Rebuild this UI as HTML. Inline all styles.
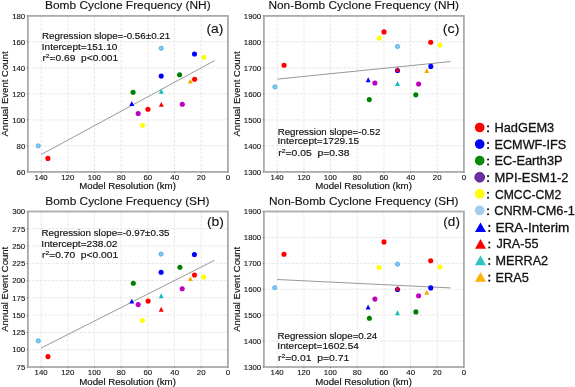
<!DOCTYPE html>
<html><head><meta charset="utf-8"><style>
html,body{margin:0;padding:0;background:#fff;}
svg{display:block;will-change:transform;}
text{font-family:'Liberation Sans', sans-serif;fill:#111;stroke:#111;stroke-width:0;}
.an{stroke-width:0.15px;}
.tk{stroke-width:0.12px;}
.lb{stroke-width:0.15px;}
.tt{stroke-width:0.12px;}
.lg{stroke-width:0.3px;}
.pl{stroke-width:0.1px;}
</style></head><body>
<svg width="575" height="387" viewBox="0 0 575 387">
<rect width="575" height="387" fill="#fff"/>
<path d="M41.23 15.90V171.90 M67.90 15.90V171.90 M94.57 15.90V171.90 M121.23 15.90V171.90 M147.90 15.90V171.90 M174.57 15.90V171.90 M201.23 15.90V171.90 M27.90 145.90H227.90 M27.90 119.90H227.90 M27.90 93.90H227.90 M27.90 67.90H227.90 M27.90 41.90H227.90" stroke="#e7e7e7" stroke-width="1" stroke-dasharray="2.8 1.2" fill="none"/>
<line x1="41.1" y1="154.6" x2="214.6" y2="60.6" stroke="#999" stroke-width="1.0"/>
<circle cx="38.2" cy="145.9" r="2.1" fill="#86c8ef" stroke="#4aaee6" stroke-width="0.9"/>
<circle cx="47.9" cy="158.4" r="2.55" fill="#ff0000"/>
<circle cx="133.1" cy="92.3" r="2.55" fill="#008000"/>
<path d="M131.8 101.05L134.25 105.95L129.35 105.95Z" fill="#0000ff"/>
<circle cx="138.2" cy="113.5" r="2.55" fill="#bf00bf"/>
<circle cx="142.5" cy="125.2" r="2.55" fill="#ffff00"/>
<circle cx="147.9" cy="109.3" r="2.55" fill="#ff0000"/>
<path d="M161.3 88.75L163.75 93.65L158.85 93.65Z" fill="#12bdbd"/>
<path d="M161.3 101.95L163.75 106.85L158.85 106.85Z" fill="#ff0000"/>
<circle cx="161.2" cy="76.1" r="2.55" fill="#0000ff"/>
<circle cx="161.2" cy="48.3" r="2.1" fill="#86c8ef" stroke="#4aaee6" stroke-width="0.9"/>
<circle cx="179.6" cy="74.8" r="2.55" fill="#008000"/>
<circle cx="182.3" cy="104.3" r="2.55" fill="#bf00bf"/>
<path d="M190.3 78.65L192.75 83.55L187.85 83.55Z" fill="#ffa500"/>
<circle cx="194.6" cy="79.3" r="2.55" fill="#ff0000"/>
<circle cx="194.5" cy="54.0" r="2.55" fill="#0000ff"/>
<circle cx="203.8" cy="57.3" r="2.55" fill="#ffff00"/>
<rect x="27.9" y="15.9" width="200.00" height="156.00" fill="none" stroke="#ababab" stroke-width="1.8"/>
<path d="M41.23 171.90v1.2 M67.90 171.90v1.2 M94.57 171.90v1.2 M121.23 171.90v1.2 M147.90 171.90v1.2 M174.57 171.90v1.2 M201.23 171.90v1.2 M227.90 171.90v1.2 M27.90 171.90h-1.2 M27.90 145.90h-1.2 M27.90 119.90h-1.2 M27.90 93.90h-1.2 M27.90 67.90h-1.2 M27.90 41.90h-1.2 M27.90 15.90h-1.2" stroke="#777" stroke-width="0.9" fill="none"/>
<text class="tk" transform="translate(34.54 179.60) scale(1.0200 1)" font-size="7.7">140</text>
<text class="tk" transform="translate(61.20 179.60) scale(1.0200 1)" font-size="7.7">120</text>
<text class="tk" transform="translate(87.87 179.60) scale(1.0200 1)" font-size="7.7">100</text>
<text class="tk" transform="translate(116.85 179.60) scale(1.0200 1)" font-size="7.7">80</text>
<text class="tk" transform="translate(143.49 179.60) scale(1.0200 1)" font-size="7.7">60</text>
<text class="tk" transform="translate(170.27 179.60) scale(1.0200 1)" font-size="7.7">40</text>
<text class="tk" transform="translate(196.83 179.60) scale(1.0200 1)" font-size="7.7">20</text>
<text class="tk" transform="translate(225.71 179.60) scale(1.0200 1)" font-size="7.7">0</text>
<text class="tk" transform="translate(16.53 174.65) scale(1.0200 1)" font-size="7.7">60</text>
<text class="tk" transform="translate(16.53 148.65) scale(1.0200 1)" font-size="7.7">80</text>
<text class="tk" transform="translate(12.15 122.65) scale(1.0200 1)" font-size="7.7">100</text>
<text class="tk" transform="translate(12.15 96.65) scale(1.0200 1)" font-size="7.7">120</text>
<text class="tk" transform="translate(12.15 70.65) scale(1.0200 1)" font-size="7.7">140</text>
<text class="tk" transform="translate(12.15 44.65) scale(1.0200 1)" font-size="7.7">160</text>
<text class="tk" transform="translate(12.15 18.65) scale(1.0200 1)" font-size="7.7">180</text>
<text class="tt" transform="translate(45.02 8.60) scale(1.0843 1)" font-size="11">Bomb Cyclone Frequency (NH)</text>
<text class="lb" transform="translate(79.20 189.40) scale(1.1262 1)" font-size="8.6">Model Resolution (km)</text>
<text class="lb" transform="translate(8.00 136.52) rotate(-90) scale(0.9989 1)" font-size="9.6">Annual Event Count</text>
<text class="pl" transform="translate(206.43 32.90) scale(1.1308 1)" font-size="12.3">(a)</text>
<text class="an" transform="translate(41.89 39.20) scale(1.1286 1)" font-size="8.7">Regression slope=-0.56±0.21</text>
<text class="an" transform="translate(41.77 50.10) scale(1.1552 1)" font-size="8.7">Intercept=151.10</text>
<text class="an" transform="translate(42.44 60.80) scale(1.1738 1)" font-size="8.7" style="white-space:pre">r<tspan font-size="5.74" dy="-2.87">2</tspan><tspan dy="2.87">=0.69  p&lt;0.001</tspan></text>
<path d="M41.23 211.50V367.00 M67.90 211.50V367.00 M94.57 211.50V367.00 M121.23 211.50V367.00 M147.90 211.50V367.00 M174.57 211.50V367.00 M201.23 211.50V367.00 M27.90 349.72H227.90 M27.90 332.44H227.90 M27.90 315.17H227.90 M27.90 297.89H227.90 M27.90 280.61H227.90 M27.90 263.33H227.90 M27.90 246.06H227.90 M27.90 228.78H227.90" stroke="#e7e7e7" stroke-width="1" stroke-dasharray="2.8 1.2" fill="none"/>
<line x1="41.0" y1="348.1" x2="214.5" y2="260.3" stroke="#999" stroke-width="1.0"/>
<circle cx="38.3" cy="340.9" r="2.1" fill="#86c8ef" stroke="#4aaee6" stroke-width="0.9"/>
<circle cx="48" cy="356.6" r="2.55" fill="#ff0000"/>
<circle cx="133.3" cy="283.3" r="2.55" fill="#008000"/>
<path d="M131.8 298.65L134.25 303.55L129.35 303.55Z" fill="#0000ff"/>
<circle cx="138.2" cy="304.6" r="2.55" fill="#bf00bf"/>
<circle cx="142.4" cy="320.5" r="2.55" fill="#ffff00"/>
<circle cx="148.1" cy="301.1" r="2.55" fill="#ff0000"/>
<path d="M161.2 293.25L163.65 298.15L158.75 298.15Z" fill="#12bdbd"/>
<path d="M161.2 306.75L163.65 311.65L158.75 311.65Z" fill="#ff0000"/>
<circle cx="161.1" cy="272.2" r="2.55" fill="#0000ff"/>
<circle cx="161.1" cy="254.1" r="2.1" fill="#86c8ef" stroke="#4aaee6" stroke-width="0.9"/>
<circle cx="179.9" cy="267.2" r="2.55" fill="#008000"/>
<circle cx="182.2" cy="288.7" r="2.55" fill="#bf00bf"/>
<path d="M190.3 276.15L192.75 281.05L187.85 281.05Z" fill="#ffa500"/>
<circle cx="194.5" cy="275.0" r="2.55" fill="#ff0000"/>
<circle cx="194.4" cy="254.5" r="2.55" fill="#0000ff"/>
<circle cx="203.6" cy="277.0" r="2.55" fill="#ffff00"/>
<rect x="27.9" y="211.5" width="200.00" height="155.50" fill="none" stroke="#ababab" stroke-width="1.8"/>
<path d="M41.23 367.00v1.2 M67.90 367.00v1.2 M94.57 367.00v1.2 M121.23 367.00v1.2 M147.90 367.00v1.2 M174.57 367.00v1.2 M201.23 367.00v1.2 M227.90 367.00v1.2 M27.90 367.00h-1.2 M27.90 349.72h-1.2 M27.90 332.44h-1.2 M27.90 315.17h-1.2 M27.90 297.89h-1.2 M27.90 280.61h-1.2 M27.90 263.33h-1.2 M27.90 246.06h-1.2 M27.90 228.78h-1.2 M27.90 211.50h-1.2" stroke="#777" stroke-width="0.9" fill="none"/>
<text class="tk" transform="translate(34.54 374.70) scale(1.0200 1)" font-size="7.7">140</text>
<text class="tk" transform="translate(61.20 374.70) scale(1.0200 1)" font-size="7.7">120</text>
<text class="tk" transform="translate(87.87 374.70) scale(1.0200 1)" font-size="7.7">100</text>
<text class="tk" transform="translate(116.85 374.70) scale(1.0200 1)" font-size="7.7">80</text>
<text class="tk" transform="translate(143.49 374.70) scale(1.0200 1)" font-size="7.7">60</text>
<text class="tk" transform="translate(170.27 374.70) scale(1.0200 1)" font-size="7.7">40</text>
<text class="tk" transform="translate(196.83 374.70) scale(1.0200 1)" font-size="7.7">20</text>
<text class="tk" transform="translate(225.71 374.70) scale(1.0200 1)" font-size="7.7">0</text>
<text class="tk" transform="translate(16.55 369.75) scale(1.0200 1)" font-size="7.7">75</text>
<text class="tk" transform="translate(12.15 352.47) scale(1.0200 1)" font-size="7.7">100</text>
<text class="tk" transform="translate(12.17 335.19) scale(1.0200 1)" font-size="7.7">125</text>
<text class="tk" transform="translate(12.15 317.92) scale(1.0200 1)" font-size="7.7">150</text>
<text class="tk" transform="translate(12.17 300.64) scale(1.0200 1)" font-size="7.7">175</text>
<text class="tk" transform="translate(12.15 283.36) scale(1.0200 1)" font-size="7.7">200</text>
<text class="tk" transform="translate(12.17 266.08) scale(1.0200 1)" font-size="7.7">225</text>
<text class="tk" transform="translate(12.15 248.81) scale(1.0200 1)" font-size="7.7">250</text>
<text class="tk" transform="translate(12.17 231.53) scale(1.0200 1)" font-size="7.7">275</text>
<text class="tk" transform="translate(12.15 214.25) scale(1.0200 1)" font-size="7.7">300</text>
<text class="tt" transform="translate(45.32 204.90) scale(1.0794 1)" font-size="11">Bomb Cyclone Frequency (SH)</text>
<text class="lb" transform="translate(79.20 384.50) scale(1.1262 1)" font-size="8.6">Model Resolution (km)</text>
<text class="lb" transform="translate(8.00 331.87) rotate(-90) scale(0.9989 1)" font-size="9.6">Annual Event Count</text>
<text class="pl" transform="translate(206.93 225.70) scale(1.1308 1)" font-size="12.3">(b)</text>
<text class="an" transform="translate(41.49 235.80) scale(1.1270 1)" font-size="8.7">Regression slope=-0.97±0.35</text>
<text class="an" transform="translate(41.36 246.60) scale(1.1619 1)" font-size="8.7">Intercept=238.02</text>
<text class="an" transform="translate(42.03 257.70) scale(1.1801 1)" font-size="8.7" style="white-space:pre">r<tspan font-size="5.74" dy="-2.87">2</tspan><tspan dy="2.87">=0.70  p&lt;0.001</tspan></text>
<path d="M277.23 15.90V171.90 M303.90 15.90V171.90 M330.57 15.90V171.90 M357.23 15.90V171.90 M383.90 15.90V171.90 M410.57 15.90V171.90 M437.23 15.90V171.90 M263.90 145.90H463.90 M263.90 119.90H463.90 M263.90 93.90H463.90 M263.90 67.90H463.90 M263.90 41.90H463.90" stroke="#e7e7e7" stroke-width="1" stroke-dasharray="2.8 1.2" fill="none"/>
<line x1="277.3" y1="79.1" x2="450.5" y2="61.6" stroke="#999" stroke-width="1.0"/>
<circle cx="274.9" cy="86.9" r="2.1" fill="#86c8ef" stroke="#4aaee6" stroke-width="0.9"/>
<circle cx="284.1" cy="65.3" r="2.55" fill="#ff0000"/>
<circle cx="369.3" cy="99.6" r="2.55" fill="#008000"/>
<path d="M368.2 77.35L370.65 82.25L365.75 82.25Z" fill="#0000ff"/>
<circle cx="374.9" cy="83.0" r="2.55" fill="#bf00bf"/>
<circle cx="379.1" cy="38.1" r="2.55" fill="#ffff00"/>
<circle cx="384.0" cy="31.9" r="2.55" fill="#ff0000"/>
<path d="M397.5 81.05L399.95 85.95L395.05 85.95Z" fill="#12bdbd"/>
<circle cx="397.5" cy="46.5" r="2.1" fill="#86c8ef" stroke="#4aaee6" stroke-width="0.9"/>
<circle cx="397.5" cy="70.5" r="2.55" fill="#0000ff"/>
<path d="M397.5 66.75L399.95 71.65L395.05 71.65Z" fill="#ff0000"/>
<circle cx="415.8" cy="94.7" r="2.55" fill="#008000"/>
<circle cx="418.6" cy="84.0" r="2.55" fill="#bf00bf"/>
<path d="M426.7 68.05L429.15 72.95L424.25 72.95Z" fill="#ffa500"/>
<circle cx="430.7" cy="42.3" r="2.55" fill="#ff0000"/>
<circle cx="430.8" cy="66.4" r="2.55" fill="#0000ff"/>
<circle cx="440.0" cy="45.1" r="2.55" fill="#ffff00"/>
<rect x="263.9" y="15.9" width="200.00" height="156.00" fill="none" stroke="#ababab" stroke-width="1.8"/>
<path d="M277.23 171.90v1.2 M303.90 171.90v1.2 M330.57 171.90v1.2 M357.23 171.90v1.2 M383.90 171.90v1.2 M410.57 171.90v1.2 M437.23 171.90v1.2 M463.90 171.90v1.2 M263.90 171.90h-1.2 M263.90 145.90h-1.2 M263.90 119.90h-1.2 M263.90 93.90h-1.2 M263.90 67.90h-1.2 M263.90 41.90h-1.2 M263.90 15.90h-1.2" stroke="#777" stroke-width="0.9" fill="none"/>
<text class="tk" transform="translate(270.54 179.60) scale(1.0200 1)" font-size="7.7">140</text>
<text class="tk" transform="translate(297.20 179.60) scale(1.0200 1)" font-size="7.7">120</text>
<text class="tk" transform="translate(323.87 179.60) scale(1.0200 1)" font-size="7.7">100</text>
<text class="tk" transform="translate(352.85 179.60) scale(1.0200 1)" font-size="7.7">80</text>
<text class="tk" transform="translate(379.49 179.60) scale(1.0200 1)" font-size="7.7">60</text>
<text class="tk" transform="translate(406.27 179.60) scale(1.0200 1)" font-size="7.7">40</text>
<text class="tk" transform="translate(432.83 179.60) scale(1.0200 1)" font-size="7.7">20</text>
<text class="tk" transform="translate(461.71 179.60) scale(1.0200 1)" font-size="7.7">0</text>
<text class="tk" transform="translate(243.79 174.65) scale(1.0200 1)" font-size="7.7">1300</text>
<text class="tk" transform="translate(243.79 148.65) scale(1.0200 1)" font-size="7.7">1400</text>
<text class="tk" transform="translate(243.79 122.65) scale(1.0200 1)" font-size="7.7">1500</text>
<text class="tk" transform="translate(243.79 96.65) scale(1.0200 1)" font-size="7.7">1600</text>
<text class="tk" transform="translate(243.79 70.65) scale(1.0200 1)" font-size="7.7">1700</text>
<text class="tk" transform="translate(243.79 44.65) scale(1.0200 1)" font-size="7.7">1800</text>
<text class="tk" transform="translate(243.79 18.65) scale(1.0200 1)" font-size="7.7">1900</text>
<text class="tt" transform="translate(268.42 8.60) scale(1.0794 1)" font-size="11">Non-Bomb Cyclone Frequency (NH)</text>
<text class="lb" transform="translate(315.20 189.40) scale(1.1262 1)" font-size="8.6">Model Resolution (km)</text>
<text class="lb" transform="translate(240.20 136.52) rotate(-90) scale(0.9989 1)" font-size="9.6">Annual Event Count</text>
<text class="pl" transform="translate(442.81 32.90) scale(1.1620 1)" font-size="12.3">(c)</text>
<text class="an" transform="translate(277.70 134.90) scale(1.1156 1)" font-size="8.7">Regression slope=-0.52</text>
<text class="an" transform="translate(277.57 144.40) scale(1.1613 1)" font-size="8.7">Intercept=1729.15</text>
<text class="an" transform="translate(278.23 155.70) scale(1.1927 1)" font-size="8.7" style="white-space:pre">r<tspan font-size="5.74" dy="-2.87">2</tspan><tspan dy="2.87">=0.05  p=0.38</tspan></text>
<path d="M277.23 211.50V367.00 M303.90 211.50V367.00 M330.57 211.50V367.00 M357.23 211.50V367.00 M383.90 211.50V367.00 M410.57 211.50V367.00 M437.23 211.50V367.00 M263.90 341.08H463.90 M263.90 315.17H463.90 M263.90 289.25H463.90 M263.90 263.33H463.90 M263.90 237.42H463.90" stroke="#e7e7e7" stroke-width="1" stroke-dasharray="2.8 1.2" fill="none"/>
<line x1="277.2" y1="279.5" x2="450.5" y2="287.9" stroke="#999" stroke-width="1.0"/>
<circle cx="274.7" cy="287.7" r="2.1" fill="#86c8ef" stroke="#4aaee6" stroke-width="0.9"/>
<circle cx="284.0" cy="254.3" r="2.55" fill="#ff0000"/>
<circle cx="369.4" cy="318.2" r="2.55" fill="#008000"/>
<path d="M368.1 304.55L370.55 309.45L365.65 309.45Z" fill="#0000ff"/>
<circle cx="374.9" cy="299.1" r="2.55" fill="#bf00bf"/>
<circle cx="379.1" cy="267.5" r="2.55" fill="#ffff00"/>
<circle cx="384.0" cy="241.9" r="2.55" fill="#ff0000"/>
<path d="M397.5 310.35L399.95 315.25L395.05 315.25Z" fill="#12bdbd"/>
<circle cx="397.5" cy="264.2" r="2.1" fill="#86c8ef" stroke="#4aaee6" stroke-width="0.9"/>
<circle cx="397.5" cy="289.5" r="2.55" fill="#0000ff"/>
<path d="M397.5 285.85L399.95 290.75L395.05 290.75Z" fill="#ff0000"/>
<circle cx="415.9" cy="311.9" r="2.55" fill="#008000"/>
<circle cx="418.6" cy="295.7" r="2.55" fill="#bf00bf"/>
<path d="M426.7 289.75L429.15 294.65L424.25 294.65Z" fill="#ffa500"/>
<circle cx="430.7" cy="260.7" r="2.55" fill="#ff0000"/>
<circle cx="430.7" cy="287.9" r="2.55" fill="#0000ff"/>
<circle cx="440.0" cy="267.0" r="2.55" fill="#ffff00"/>
<rect x="263.9" y="211.5" width="200.00" height="155.50" fill="none" stroke="#ababab" stroke-width="1.8"/>
<path d="M277.23 367.00v1.2 M303.90 367.00v1.2 M330.57 367.00v1.2 M357.23 367.00v1.2 M383.90 367.00v1.2 M410.57 367.00v1.2 M437.23 367.00v1.2 M463.90 367.00v1.2 M263.90 367.00h-1.2 M263.90 341.08h-1.2 M263.90 315.17h-1.2 M263.90 289.25h-1.2 M263.90 263.33h-1.2 M263.90 237.42h-1.2 M263.90 211.50h-1.2" stroke="#777" stroke-width="0.9" fill="none"/>
<text class="tk" transform="translate(270.54 374.70) scale(1.0200 1)" font-size="7.7">140</text>
<text class="tk" transform="translate(297.20 374.70) scale(1.0200 1)" font-size="7.7">120</text>
<text class="tk" transform="translate(323.87 374.70) scale(1.0200 1)" font-size="7.7">100</text>
<text class="tk" transform="translate(352.85 374.70) scale(1.0200 1)" font-size="7.7">80</text>
<text class="tk" transform="translate(379.49 374.70) scale(1.0200 1)" font-size="7.7">60</text>
<text class="tk" transform="translate(406.27 374.70) scale(1.0200 1)" font-size="7.7">40</text>
<text class="tk" transform="translate(432.83 374.70) scale(1.0200 1)" font-size="7.7">20</text>
<text class="tk" transform="translate(461.71 374.70) scale(1.0200 1)" font-size="7.7">0</text>
<text class="tk" transform="translate(243.79 369.75) scale(1.0200 1)" font-size="7.7">1300</text>
<text class="tk" transform="translate(243.79 343.83) scale(1.0200 1)" font-size="7.7">1400</text>
<text class="tk" transform="translate(243.79 317.92) scale(1.0200 1)" font-size="7.7">1500</text>
<text class="tk" transform="translate(243.79 292.00) scale(1.0200 1)" font-size="7.7">1600</text>
<text class="tk" transform="translate(243.79 266.08) scale(1.0200 1)" font-size="7.7">1700</text>
<text class="tk" transform="translate(243.79 240.17) scale(1.0200 1)" font-size="7.7">1800</text>
<text class="tk" transform="translate(243.79 214.25) scale(1.0200 1)" font-size="7.7">1900</text>
<text class="tt" transform="translate(269.02 204.90) scale(1.0774 1)" font-size="11">Non-Bomb Cyclone Frequency (SH)</text>
<text class="lb" transform="translate(315.20 384.50) scale(1.1262 1)" font-size="8.6">Model Resolution (km)</text>
<text class="lb" transform="translate(240.20 331.87) rotate(-90) scale(0.9989 1)" font-size="9.6">Annual Event Count</text>
<text class="pl" transform="translate(443.35 225.70) scale(1.1013 1)" font-size="12.3">(d)</text>
<text class="an" transform="translate(277.50 339.30) scale(1.1205 1)" font-size="8.7">Regression slope=0.24</text>
<text class="an" transform="translate(277.37 348.90) scale(1.1595 1)" font-size="8.7">Intercept=1602.54</text>
<text class="an" transform="translate(278.03 360.70) scale(1.1936 1)" font-size="8.7" style="white-space:pre">r<tspan font-size="5.74" dy="-2.87">2</tspan><tspan dy="2.87">=0.01  p=0.71</tspan></text>
<circle cx="479.7" cy="127.50" r="4.85" fill="#ff0000"/>
<circle cx="488.05" cy="131.35" r="1.05" fill="#111"/><circle cx="488.05" cy="126.35" r="1.05" fill="#111"/>
<text class="lg" transform="translate(494.44 132.30) scale(1.0010 1)" font-size="12.8">HadGEM3</text>
<circle cx="479.7" cy="144.09" r="4.85" fill="#0000ff"/>
<circle cx="488.05" cy="147.94" r="1.05" fill="#111"/><circle cx="488.05" cy="142.94" r="1.05" fill="#111"/>
<text class="lg" transform="translate(494.45 148.89) scale(0.9918 1)" font-size="12.8">ECMWF-IFS</text>
<circle cx="479.7" cy="160.68" r="4.85" fill="#0a8a0a"/>
<circle cx="488.05" cy="164.53" r="1.05" fill="#111"/><circle cx="488.05" cy="159.53" r="1.05" fill="#111"/>
<text class="lg" transform="translate(494.44 165.48) scale(0.9991 1)" font-size="12.8">EC-Earth3P</text>
<circle cx="479.7" cy="177.27" r="4.85" fill="#7030a0" stroke="#4b0f80" stroke-width="0.9"/>
<circle cx="488.05" cy="181.12" r="1.05" fill="#111"/><circle cx="488.05" cy="176.12" r="1.05" fill="#111"/>
<text class="lg" transform="translate(494.53 182.07) scale(1.0119 1)" font-size="12.8">MPI-ESM1-2</text>
<circle cx="479.7" cy="193.86" r="4.85" fill="#ffff00"/>
<circle cx="488.05" cy="197.71" r="1.05" fill="#111"/><circle cx="488.05" cy="192.71" r="1.05" fill="#111"/>
<text class="lg" transform="translate(494.89 198.66) scale(0.9534 1)" font-size="12.8">CMCC-CM2</text>
<circle cx="479.7" cy="210.45" r="4.85" fill="#a3cdea"/>
<circle cx="488.05" cy="214.30" r="1.05" fill="#111"/><circle cx="488.05" cy="209.30" r="1.05" fill="#111"/>
<text class="lg" transform="translate(494.26 215.25) scale(0.9924 1)" font-size="12.8">CNRM-CM6-1</text>
<path d="M480.5 222.44L486 232.04L475 232.04Z" fill="#0000ff"/>
<circle cx="489.3" cy="230.89" r="1.05" fill="#111"/><circle cx="489.3" cy="225.89" r="1.05" fill="#111"/>
<text class="lg" transform="translate(495.48 231.84) scale(1.0618 1)" font-size="12.8">ERA-Interim</text>
<path d="M480.5 239.03L486 248.63L475 248.63Z" fill="#ff0000"/>
<circle cx="489.3" cy="247.48" r="1.05" fill="#111"/><circle cx="489.3" cy="242.48" r="1.05" fill="#111"/>
<text class="lg" transform="translate(496.41 248.43) scale(0.9845 1)" font-size="12.8">JRA-55</text>
<path d="M480.5 255.62L486 265.22L475 265.22Z" fill="#2ec4c0"/>
<circle cx="489.3" cy="264.07" r="1.05" fill="#111"/><circle cx="489.3" cy="259.07" r="1.05" fill="#111"/>
<text class="lg" transform="translate(495.56 265.02) scale(0.9855 1)" font-size="12.8">MERRA2</text>
<path d="M480.5 272.21L486 281.81L475 281.81Z" fill="#ffb000"/>
<circle cx="489.3" cy="280.66" r="1.05" fill="#111"/><circle cx="489.3" cy="275.66" r="1.05" fill="#111"/>
<text class="lg" transform="translate(495.55 281.61) scale(0.9987 1)" font-size="12.8">ERA5</text>
</svg>
</body></html>
